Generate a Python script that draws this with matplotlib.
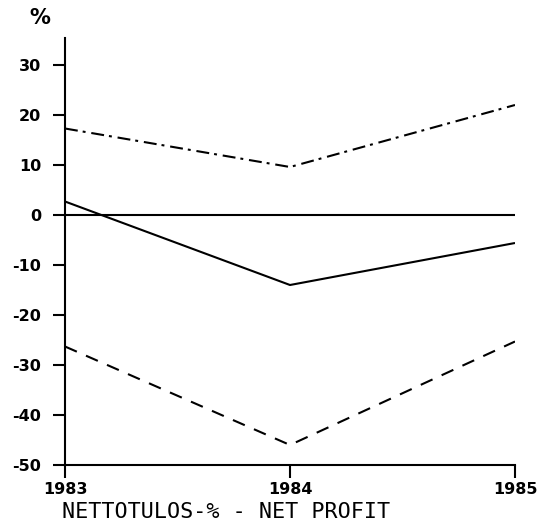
import matplotlib.pyplot as plt

# Nettotulos-% vuosittain
years = [1983, 1984, 1985]
solid_vals = [2.7, -14.0, -5.6]
dashdot_vals = [17.3, 9.6, 22.0]
dashed_vals = [-26.3, -46.0, -25.3]
y_ticks = [30, 20, 10, 0, -10, -20, -30, -40, -50]

fig = plt.figure(figsize=(5.51, 5.26), dpi=100)
ax = fig.add_axes([65 / 551, 1 - 465 / 526, 450 / 551, (465 - 38) / 526])

lw = 1.5
ax.axhline(0, color='black', lw=lw)
ax.plot(years, solid_vals, color='black', lw=lw, solid_capstyle='butt')
ax.plot(years, dashdot_vals, color='black', lw=lw, dashes=(6.2, 2.4, 1.4, 2.8))
ax.plot(years, dashed_vals, color='black', lw=lw, dashes=(6.2, 4.8))

ax.set_xlim(1983, 1985)
ax.set_ylim(-50, 35.4)
ax.set_xticks(years)
ax.set_yticks(y_ticks)
ax.set_xticklabels([str(y) for y in years], fontsize=11.5, fontweight='bold')
ax.set_yticklabels([str(v) for v in y_ticks], fontsize=11.5, fontweight='bold')

for side in ['top', 'right']:
    ax.spines[side].set_visible(False)
for side in ['left', 'bottom']:
    ax.spines[side].set_linewidth(1.5)
ax.tick_params(axis='y', direction='out', length=9, width=1.5, pad=8)
ax.tick_params(axis='x', direction='out', length=9, width=1.5, pad=3)

fig.text(40 / 551, 1 - 18 / 526, '%', fontsize=15, fontweight='bold',
         ha='center', va='center')
fig.text(62 / 551, 1 - 512 / 526, 'NETTOTULOS-% - NET PROFIT', fontsize=15.7,
         family='DejaVu Sans Mono', ha='left', va='center')

fig.savefig('out.png', dpi=100)
